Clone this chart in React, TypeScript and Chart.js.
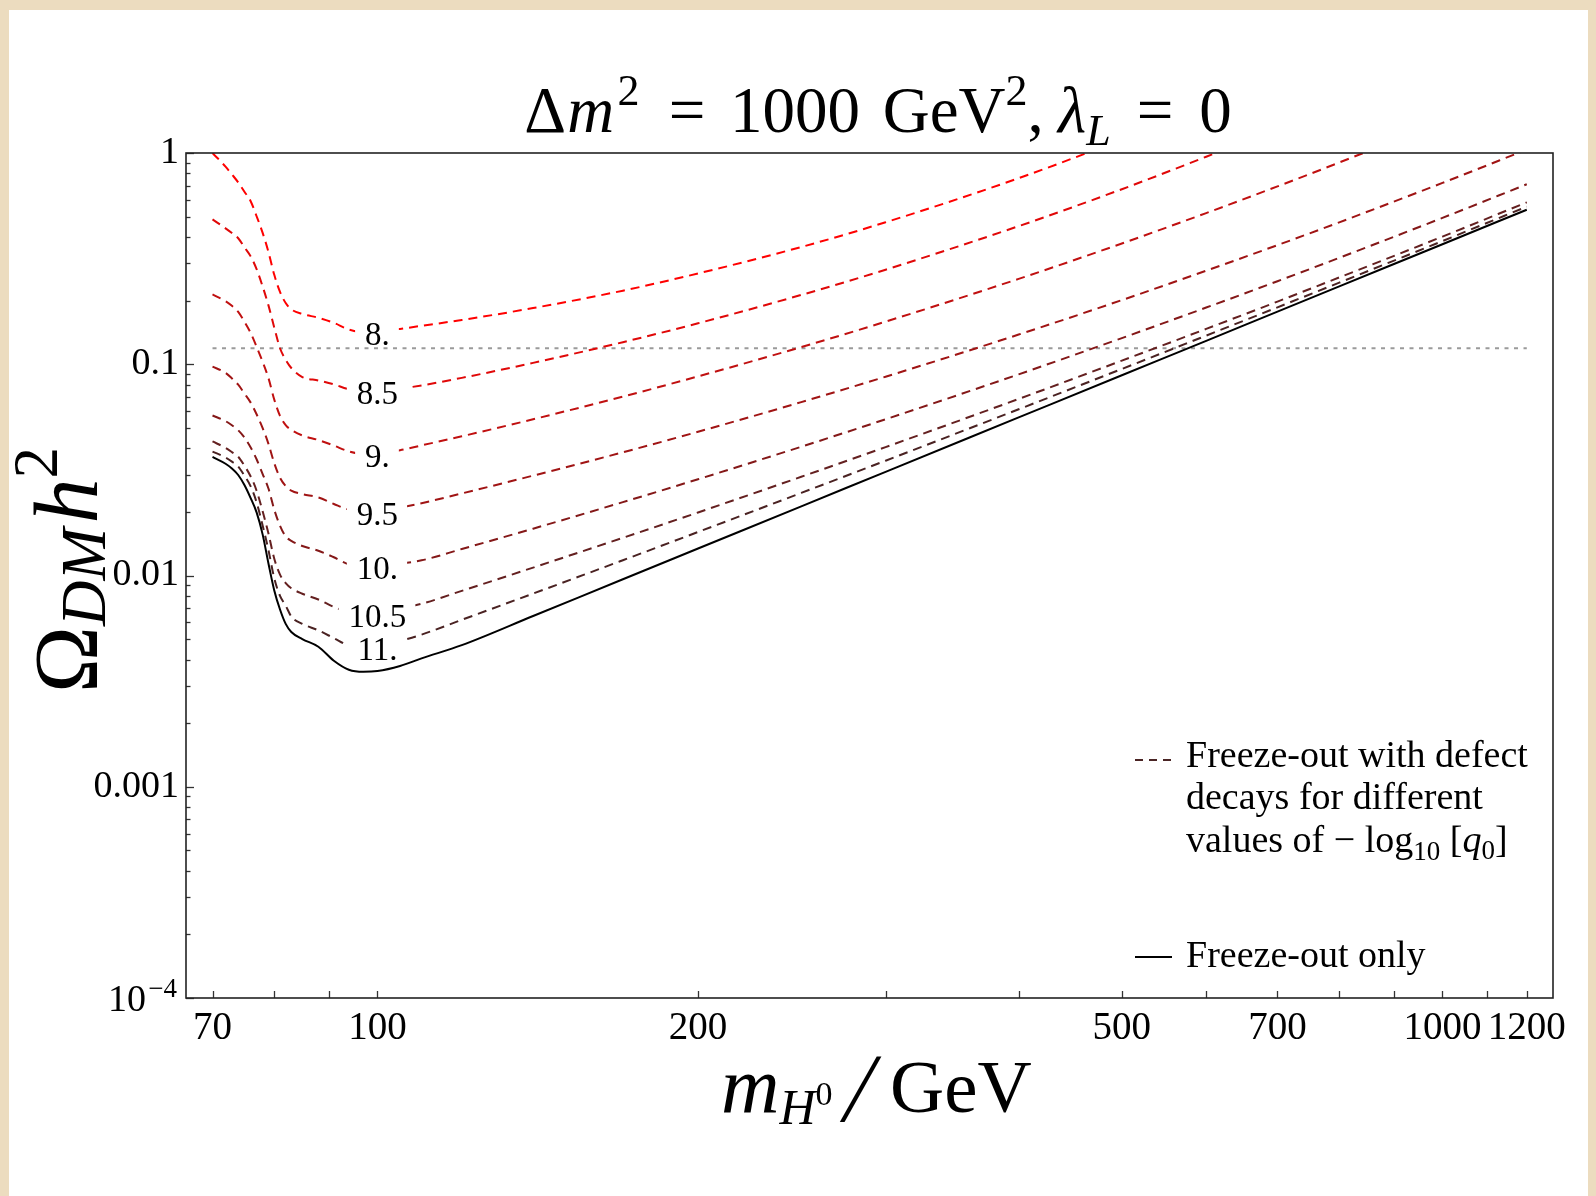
import React, { useEffect, useRef } from "react";
import { Chart, registerables } from "chart.js";

Chart.register(...registerables);

// ---------------- data ----------------
const massGrid = [70, 72, 73, 74, 75, 76, 77, 78, 79, 80, 81, 82, 83, 85, 88, 91, 94, 97, 100, 105, 110, 120, 140, 170, 200, 250, 300, 400, 500, 600, 700, 800, 1000, 1200];

const omegaQ8 = [1.0, 0.862, 0.792, 0.726, 0.656, 0.593, 0.502, 0.42, 0.34, 0.265, 0.22, 0.195, 0.182, 0.173, 0.166, 0.157, 0.146, 0.142, 0.143, 0.147, 0.152, 0.162, 0.1845, 0.223, 0.269, 0.359, 0.47, 0.76, 1.16, 1.69, 2.3, 3.0, 4.6, 6.5];
const omegaQ8p5 = [0.485, 0.44, 0.418, 0.395, 0.358, 0.325, 0.282, 0.234, 0.19, 0.149, 0.119, 0.105, 0.096, 0.087, 0.0838, 0.0803, 0.0762, 0.0748, 0.0752, 0.0767, 0.0794, 0.0862, 0.1015, 0.1272, 0.1563, 0.2129, 0.2803, 0.4505, 0.674, 0.96, 1.31, 1.74, 2.85, 4.38];
const omegaQ9 = [0.214, 0.199, 0.189, 0.177, 0.159, 0.141, 0.121, 0.103, 0.086, 0.068, 0.057, 0.0515, 0.0489, 0.046, 0.0438, 0.0412, 0.0387, 0.0377, 0.0378, 0.0392, 0.0413, 0.0456, 0.0549, 0.0703, 0.0876, 0.1206, 0.1591, 0.2536, 0.373, 0.5196, 0.695, 0.9015, 1.417, 2.08];
const omegaQ9p5 = [0.0975, 0.091, 0.0857, 0.08, 0.0727, 0.066, 0.058, 0.05, 0.042, 0.034, 0.029, 0.0265, 0.0252, 0.0243, 0.0234, 0.0218, 0.0205, 0.0201, 0.0202, 0.021, 0.022, 0.02446, 0.0297, 0.0383, 0.0479, 0.0662, 0.0873, 0.1382, 0.2012, 0.2772, 0.3663, 0.4697, 0.7216, 1.038];
const omegaQ10 = [0.0572, 0.0538, 0.0514, 0.0487, 0.045, 0.0405, 0.0355, 0.0303, 0.0258, 0.0205, 0.0172, 0.0153, 0.0146, 0.0138, 0.0131, 0.0122, 0.0113, 0.0111, 0.0112, 0.0114, 0.0118, 0.01335, 0.01666, 0.02225, 0.02856, 0.0407, 0.0549, 0.0896, 0.133, 0.1855, 0.2472, 0.319, 0.493, 0.711];
const omegaQ10p5 = [0.0431, 0.0402, 0.0384, 0.0365, 0.0331, 0.0295, 0.0252, 0.0202, 0.0158, 0.012, 0.0101, 0.0092, 0.0087, 0.0082, 0.0077, 0.0071, 0.0067, 0.0066, 0.00665, 0.007, 0.00735, 0.00846, 0.0109, 0.01508, 0.01988, 0.02933, 0.04054, 0.0685, 0.104, 0.147, 0.198, 0.2576, 0.402, 0.584];
const omegaQ11 = [0.0386, 0.0362, 0.0346, 0.0328, 0.0297, 0.0265, 0.0222, 0.0173, 0.0132, 0.0097, 0.008, 0.0072, 0.0064, 0.0059, 0.0055, 0.00505, 0.00465, 0.00455, 0.0046, 0.0049, 0.00525, 0.00617, 0.00821, 0.01181, 0.01607, 0.0246, 0.03494, 0.0612, 0.095, 0.1366, 0.186, 0.2434, 0.383, 0.557];
const freezeOutOnly = [0.0364, 0.0338, 0.0321, 0.0299, 0.0268, 0.0233, 0.0199, 0.0157, 0.0114, 0.0085, 0.0069, 0.0059, 0.0054, 0.005, 0.0046, 0.00395, 0.00358, 0.0035, 0.00353, 0.00373, 0.00405, 0.00468, 0.00643, 0.0096, 0.01342, 0.02126, 0.03095, 0.056, 0.0887, 0.129, 0.1775, 0.2338, 0.37, 0.539];

const defectSeries = [omegaQ8, omegaQ8p5, omegaQ9, omegaQ9p5, omegaQ10, omegaQ10p5, omegaQ11];
const defectLabels = ["8.", "8.5", "9.", "9.5", "10.", "10.5", "11."];
const labelMass = 100;

const planckMass = [70, 1200];
const planckOmega = [0.119, 0.119];

const xTickValues = [70, 80, 90, 100, 200, 300, 400, 500, 600, 700, 800, 900, 1000, 1100, 1200];
const xTickLabels = ["70", "", "", "100", "200", "", "", "500", "", "700", "", "", "1000", "", "1200"];
const yTickValues = [1e-4, 2e-4, 3e-4, 4e-4, 5e-4, 6e-4, 7e-4, 8e-4, 9e-4, 1e-3, 2e-3, 3e-3, 4e-3, 5e-3, 6e-3, 7e-3, 8e-3, 9e-3, 1e-2, 2e-2, 3e-2, 4e-2, 5e-2, 6e-2, 7e-2, 8e-2, 9e-2, 0.1, 0.2, 0.3, 0.4, 0.5, 0.6, 0.7, 0.8, 0.9, 1];
const yDecadeValues = [1e-4, 1e-3, 1e-2, 0.1, 1];
const yDecadeLabels = ["10^\u22124", "0.001", "0.01", "0.1", "1"];

// ---------------- styles ----------------
const defectColors = ["#ff0000", "#e00808", "#c01010", "#a01414", "#841818", "#642020", "#4a2222"];
const SERIF = '"Liberation Serif", "Times New Roman", serif';

type Run = { t: string; it?: boolean; s?: number; dy?: number; x?: number; gap?: number; skew?: number };

function runFont(r: Run, size: number) {
  return `${r.it ? "italic " : ""}${Math.round(size * (r.s ?? 1))}px ${SERIF}`;
}

function drawRuns(ctx: CanvasRenderingContext2D, runs: Run[], x: number, y: number, size: number, align: "left" | "center" | "right") {
  const widths = runs.map((r) => {
    ctx.font = runFont(r, size);
    return ctx.measureText(r.t).width + (r.gap ?? 0) * size;
  });
  const total = widths.reduce((a, b) => a + b, 0);
  let cx = align === "center" ? x - total / 2 : align === "right" ? x - total : x;
  ctx.textAlign = "left";
  ctx.textBaseline = "alphabetic";
  runs.forEach((r, i) => {
    ctx.font = runFont(r, size);
    const px = r.x !== undefined ? r.x : cx;
    const py = y + (r.dy ?? 0) * size;
    if (r.skew) {
      ctx.save();
      ctx.transform(1, 0, -r.skew, 1, px, py);
      ctx.fillText(r.t, 0, 0);
      ctx.restore();
    } else {
      ctx.fillText(r.t, px, py);
    }
    cx = px + widths[i];
  });
}

const contourLabelPlugin = {
  id: "contourLabels",
  afterDatasetsDraw(chart: any) {
    const { ctx, scales } = chart;
    const idx = massGrid.indexOf(labelMass);
    ctx.save();
    ctx.font = `33px ${SERIF}`;
    ctx.textBaseline = "middle";
    ctx.textAlign = "center";
    defectSeries.forEach((arr, i) => {
      const px = scales.x.getPixelForValue(labelMass);
      const py = scales.y.getPixelForValue(arr[idx]);
      const w = ctx.measureText(defectLabels[i]).width;
      ctx.fillStyle = "#ffffff";
      ctx.fillRect(px - w / 2 - 10, py - 12, w + 19, 26);
      ctx.fillStyle = "#000000";
      ctx.fillText(defectLabels[i], px, py + 5);
    });
    ctx.restore();
  },
};

const decorPlugin = {
  id: "decor",
  afterDraw(chart: any) {
    const { ctx, chartArea, scales } = chart;
    const { left, right, top, bottom } = chartArea;
    ctx.save();
    // inward ticks
    ctx.strokeStyle = "#333";
    ctx.lineWidth = 1.3;
    scales.x.ticks.forEach((t: any) => {
      const px = Math.round(scales.x.getPixelForValue(t.value)) + 0.5;
      ctx.beginPath();
      ctx.moveTo(px, bottom);
      ctx.lineTo(px, bottom - 7);
      ctx.stroke();
    });
    scales.y.ticks.forEach((t: any) => {
      const py = Math.round(scales.y.getPixelForValue(t.value)) + 0.5;
      const major = yDecadeValues.some((d) => Math.abs(d - t.value) / d < 1e-6);
      ctx.beginPath();
      ctx.moveTo(left, py);
      ctx.lineTo(left + (major ? 8 : 4.5), py);
      ctx.stroke();
    });
    // frame
    ctx.strokeStyle = "#222";
    ctx.lineWidth = 1.6;
    ctx.strokeRect(left, top, right - left, bottom - top);

    ctx.fillStyle = "#000";
    // power-of-ten tick label(s) with superscript
    yDecadeValues.forEach((v, k) => {
      const lab = yDecadeLabels[k];
      if (lab.indexOf("^") < 0) return;
      const [base, exp] = lab.split("^");
      const py = scales.y.getPixelForValue(v);
      drawRuns(ctx, [{ t: base, gap: 0.06 }, { t: exp, s: 0.72, dy: -0.36 }], left - 9, py + 13, 38, "right");
    });

    // title
    drawRuns(
      ctx,
      [
        { t: "\u0394", gap: 0.02 },
        { t: "m", it: true, gap: 0.05 },
        { t: "2", s: 0.68, dy: -0.42, gap: 0.45 },
        { t: "=", gap: 0.38 },
        { t: "1000", gap: 0.35 },
        { t: "GeV" },
        { t: "2", s: 0.68, dy: -0.42 },
        { t: ",", gap: 0.22 },
        { t: "\u03BB", it: true },
        { t: "L", it: true, s: 0.68, dy: 0.2, gap: 0.4 },
        { t: "=", gap: 0.4 },
        { t: "0" },
      ],
      878,
      132,
      65,
      "center"
    );
    // x axis title
    drawRuns(
      ctx,
      [
        { t: "m", it: true, s: 1.08, x: 721 },
        { t: "H", it: true, s: 0.66, dy: 0.16 },
        { t: "0", s: 0.45, dy: -0.1 },
        { t: "/", s: 1.3, dy: 0.12, x: 840, skew: 0.22 },
        { t: "GeV", x: 890 },
      ],
      0,
      1112,
      75,
      "left"
    );
    // y axis title (rotated)
    ctx.save();
    ctx.translate(97, 570);
    ctx.rotate(-Math.PI / 2);
    drawRuns(
      ctx,
      [
        { t: "\u03A9" },
        { t: "DM", it: true, s: 0.7, dy: 0.09, gap: 0.05 },
        { t: "h", it: true },
        { t: "2", s: 0.7, dy: -0.45 },
      ],
      0,
      0,
      90,
      "center"
    );
    ctx.restore();

    // legend
    const lx0 = 1135;
    const lx1 = 1172;
    ctx.lineWidth = 2;
    ctx.strokeStyle = "#4a2424";
    ctx.setLineDash([8, 6]);
    ctx.beginPath();
    ctx.moveTo(lx0, 760);
    ctx.lineTo(lx1, 760);
    ctx.stroke();
    ctx.setLineDash([]);
    ctx.strokeStyle = "#000";
    ctx.beginPath();
    ctx.moveTo(lx0, 957);
    ctx.lineTo(lx1, 957);
    ctx.stroke();
    const ls = 38;
    drawRuns(ctx, [{ t: "Freeze-out with defect" }], 1186, 767, ls, "left");
    drawRuns(ctx, [{ t: "decays for different" }], 1186, 809, ls, "left");
    drawRuns(
      ctx,
      [
        { t: "values of \u2212 log" },
        { t: "10", s: 0.7, dy: 0.22 },
        { t: " [" },
        { t: "q", it: true },
        { t: "0", s: 0.7, dy: 0.18 },
        { t: "]" },
      ],
      1186,
      852,
      ls,
      "left"
    );
    drawRuns(ctx, [{ t: "Freeze-out only" }], 1186, 967, ls, "left");
    ctx.restore();
  },
};

export default function App() {
  const ref = useRef<HTMLCanvasElement>(null);

  useEffect(() => {
    document.body.style.margin = "0";
    const canvas = ref.current!;
    const toPoints = (arr: number[]) => massGrid.map((m, i) => ({ x: m, y: arr[i] }));

    const datasets: any[] = [];
    datasets.push({
      label: "Freeze-out only",
      data: toPoints(freezeOutOnly),
      borderColor: "#000",
      borderWidth: 2,
      pointRadius: 0,
      cubicInterpolationMode: "monotone",
      fill: false,
    });
    defectSeries.forEach((arr, i) => {
      datasets.push({
        label: defectLabels[i],
        data: toPoints(arr),
        borderColor: defectColors[i],
        borderWidth: 2,
        borderDash: [9, 6],
        pointRadius: 0,
        cubicInterpolationMode: "monotone",
        fill: false,
      });
    });
    datasets.push({
      label: "Planck",
      data: planckMass.map((m, i) => ({ x: m, y: planckOmega[i] })),
      borderColor: "#9a9a9a",
      borderWidth: 2,
      borderDash: [4, 5.5],
      pointRadius: 0,
      fill: false,
    });

    const chart = new Chart(canvas, {
      type: "line",
      data: { datasets },
      options: {
        responsive: false,
        animation: false,
        events: [],
        layout: { padding: { top: 153, right: 43, left: 0, bottom: 0 } },
        plugins: {
          legend: { display: false },
          tooltip: { enabled: false },
          title: { display: false },
        },
        scales: {
          x: {
            type: "logarithmic",
            min: 66.1,
            max: 1270,
            afterBuildTicks: (ax: any) => {
              ax.ticks = xTickValues.map((v) => ({ value: v }));
            },
            afterFit: (ax: any) => {
              ax.height = 198;
            },
            grid: { display: false, drawTicks: false },
            border: { display: false },
            ticks: {
              autoSkip: false,
              maxRotation: 0,
              minRotation: 0,
              padding: 7,
              color: "#000",
              font: { family: SERIF, size: 39 },
              callback: (_v: any, i: number) => xTickLabels[i],
            },
          },
          y: {
            type: "logarithmic",
            min: 1e-4,
            max: 1,
            afterBuildTicks: (ax: any) => {
              ax.ticks = yTickValues.map((v) => ({ value: v }));
            },
            afterFit: (ax: any) => {
              ax.width = 186;
            },
            grid: { display: false, drawTicks: false },
            border: { display: false },
            ticks: {
              autoSkip: false,
              padding: 7,
              color: "#000",
              font: { family: SERIF, size: 38 },
              callback: (v: any) => {
                const k = yDecadeValues.findIndex((d) => Math.abs(d - v) / d < 1e-6);
                if (k < 0) return "";
                return yDecadeLabels[k].indexOf("^") >= 0 ? "" : yDecadeLabels[k];
              },
            },
          },
        },
      } as any,
      plugins: [contourLabelPlugin, decorPlugin],
    });
    return () => chart.destroy();
  }, []);

  return (
    <div style={{ position: "fixed", left: 0, top: 0, width: 1596, height: 1196, background: "#ecdcbf", overflow: "hidden" }}>
      <div style={{ position: "absolute", left: 9, top: 10, right: 8, bottom: 0, background: "#ffffff" }} />
      <canvas ref={ref} width={1596} height={1196} style={{ position: "absolute", left: 0, top: 0, width: 1596, height: 1196 }} />
    </div>
  );
}
